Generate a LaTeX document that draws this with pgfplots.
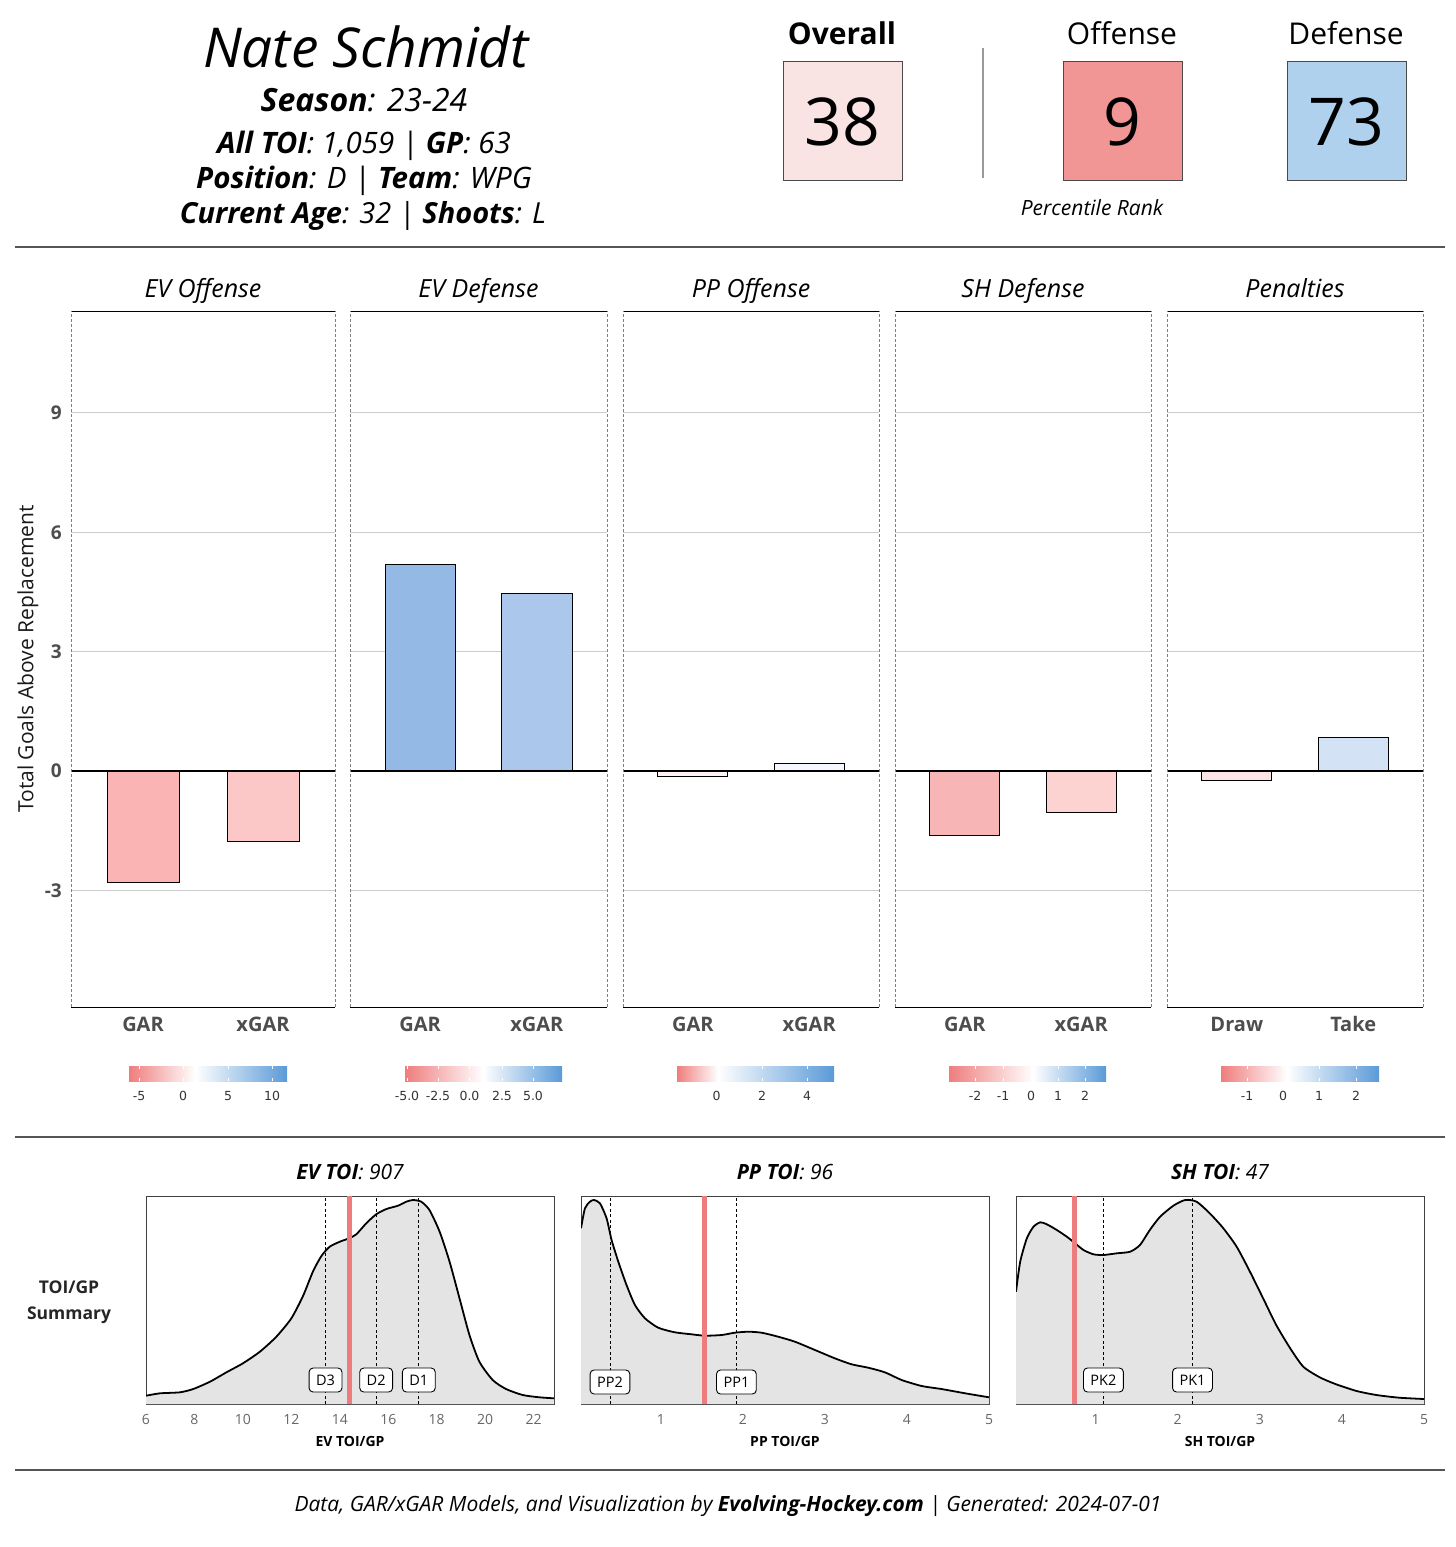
\documentclass[border=0pt]{standalone}
\usepackage{pgfplots}
\pgfplotsset{compat=1.18}
\usepackage{pgfplotstable}
\usepackage{fontspec}
\setmainfont{Open Sans}
\newfontfamily\dejavu{DejaVu Sans}
\pgfplotsset{/pgf/number format/assume math mode=true}

\definecolor{ovr}{HTML}{FAE3E3}
\definecolor{offc}{HTML}{F19595}
\definecolor{defc}{HTML}{B0D1ED}
\definecolor{boxedge}{HTML}{4A4A4A}
\definecolor{rulec}{HTML}{555555}
\definecolor{gridc}{HTML}{CCCCCC}
\definecolor{ticktxt}{HTML}{4D4D4D}
\definecolor{evoG}{HTML}{F9B4B3}
\definecolor{evoX}{HTML}{FCC8C7}
\definecolor{evdG}{HTML}{94B9E5}
\definecolor{evdX}{HTML}{ABC7EB}
\definecolor{ppoG}{HTML}{FDF2F2}
\definecolor{ppoX}{HTML}{F4F7FD}
\definecolor{shdG}{HTML}{F8B5B5}
\definecolor{shdX}{HTML}{FDD3D2}
\definecolor{penD}{HTML}{FDE4E4}
\definecolor{penT}{HTML}{D4E2F6}
\definecolor{cbred}{HTML}{EF7D7D}
\definecolor{cbblue}{HTML}{5A9AD8}
\definecolor{densfill}{HTML}{E4E4E4}
\definecolor{redln}{HTML}{EE7C7C}

% density curves (x = TOI/GP, y = height in px above panel floor)
\pgfplotstableread{
x y
6.00 8.3
6.58 10.7
7.40 11.7
7.95 15
8.64 22.3
9.32 31.7
10.00 40.7
10.70 52.3
11.38 67.3
12.00 85.7
12.48 108
12.90 133
13.24 148
13.58 157.3
14.00 162.3
14.38 165.7
14.68 169.7
15.09 180.7
15.50 189.7
15.92 195
16.40 198.3
16.74 202.3
17.02 204
17.36 202.3
17.70 194
18.12 172.3
18.53 142.3
18.94 105.7
19.35 69
19.76 42.3
20.31 24
20.86 15
21.55 9
22.24 6.7
22.84 5.7
}\evtab

\pgfplotstableread{
x y
0.025 175.7
0.073 195.7
0.134 202.3
0.183 204
0.256 200.7
0.337 185.7
0.398 164
0.480 142.3
0.580 119
0.683 99
0.805 85.7
0.967 76.3
1.170 71.7
1.374 69.7
1.537 68.3
1.740 69
1.900 71.3
2.065 72.3
2.228 71.3
2.430 67.3
2.634 62.3
2.878 54
3.120 45.7
3.325 39.7
3.528 36.3
3.730 31.7
3.935 24
4.180 18
4.420 15
4.710 10.7
5.000 6.7
}\pptab

\pgfplotstableread{
x y
0.030 112.3
0.081 142.3
0.162 165.7
0.243 177.3
0.325 181.7
0.406 179.7
0.527 174
0.649 167.3
0.750 160.7
0.852 154
0.974 149.7
1.095 149
1.258 150.7
1.420 152.3
1.540 159
1.660 174
1.785 187.3
1.947 198.3
2.090 204
2.230 202.3
2.390 190.7
2.556 175.7
2.718 157.3
2.880 132.3
3.040 105.7
3.200 79
3.370 55.7
3.530 37.3
3.730 26.7
3.930 19.7
4.180 13
4.420 9
4.700 6.3
5.000 5
}\shtab

\pgfplotsset{
  garax/.style={
    scale only axis, height=696pt, clip=false,
    xmin=0.4, xmax=2.6, ymin=-5.93, ymax=11.56,
    axis line style={draw=none},
    ytick={-3,0,3,6,9}, yticklabels={},
    ymajorgrids, grid style={color=gridc, line width=0.9pt},
    xtick={1,2}, major tick length=0pt,
    xticklabel style={font=\fontsize{20}{24}\selectfont\bfseries, text=ticktxt, anchor=base, inner sep=0pt, yshift=-24pt},
    yticklabel style={font=\fontsize{19}{22}\selectfont\bfseries, text=ticktxt, anchor=east, inner sep=0pt, xshift=-9pt},
    ybar, bar width=0.6,
  },
  b/.style={fill=#1, draw=black, line width=0.9pt, bar shift=0pt},
  densax/.style={
    scale only axis, width=408pt, height=208pt,
    ymin=0, ymax=208, ytick=\empty,
    axis line style={draw=black!75, line width=0.8pt},
    major tick length=0pt,
    xticklabel style={font=\fontsize{14}{16}\selectfont, text=black!60, anchor=base, inner sep=0pt, yshift=-20pt},
  },
  dashln/.style={black, line width=0.8pt, dash pattern=on 3pt off 2.5pt},
  redv/.style={redln, line width=5pt},
}
\tikzset{lab/.style={draw=black, line width=0.9pt, fill=white, rounded corners=4pt, inner xsep=7pt, inner ysep=0pt, minimum height=24pt, font=\fontsize{14.5}{16}\selectfont}}

\newcommand{\panelframe}{%
  \draw[black, line width=1.6pt] (axis cs:0.4,0) -- (axis cs:2.6,0);
  \draw[black, line width=1pt] (rel axis cs:0,1) -- (rel axis cs:1,1);
  \draw[black, line width=1pt] (rel axis cs:0,0) -- (rel axis cs:1,0);
  \draw[black!50, line width=0.8pt, dash pattern=on 3pt off 2pt] (rel axis cs:0,0) -- (rel axis cs:0,1);
  \draw[black!50, line width=0.8pt, dash pattern=on 3pt off 2pt] (rel axis cs:1,0) -- (rel axis cs:1,1);
}

\newcommand{\cbar}[3]{% x0, xwhite, x1
  \shade[left color=cbred, right color=white] (#1pt,-1066pt) rectangle (#2pt,-1081pt);
  \shade[left color=white, right color=cbblue] (#2pt,-1066pt) rectangle (#3pt,-1081pt);
}
\newcommand{\cbtick}[2]{% x, label
  \draw[white, line width=0.8pt] (#1pt,-1066pt) -- (#1pt,-1069pt);
  \draw[white, line width=0.8pt] (#1pt,-1081pt) -- (#1pt,-1078pt);
  \node[anchor=base, inner sep=0pt, font=\dejavu\fontsize{12.5}{14}\selectfont, text=black!80] at (#1pt,-1100.5pt) {#2};
}

\begin{document}
\begin{tikzpicture}
\path[use as bounding box] (0pt,0pt) rectangle (1456pt,-1547pt);

% ---------------- header left
\node[anchor=base, inner sep=0pt, font=\fontsize{55}{64}\selectfont\itshape] at (366pt,-67pt) {Nate Schmidt};
\node[anchor=base, inner sep=0pt, font=\fontsize{32}{36}\selectfont\itshape] at (364pt,-111pt) {\textbf{Season}: 23-24};
\node[anchor=base, inner sep=0pt, font=\fontsize{29.5}{36}\selectfont\itshape] at (364pt,-153pt) {\textbf{All TOI}: 1,059 | \textbf{GP}: 63};
\node[anchor=base, inner sep=0pt, font=\fontsize{29.5}{36}\selectfont\itshape] at (364pt,-188pt) {\textbf{Position}: D | \textbf{Team}: WPG};
\node[anchor=base, inner sep=0pt, font=\fontsize{29}{36}\selectfont\itshape] at (363pt,-223pt) {\textbf{Current Age}: 32 | \textbf{Shoots}: L};

% ---------------- header right
\node[anchor=base, inner sep=0pt, font=\fontsize{30}{34}\selectfont\bfseries] at (842pt,-44pt) {Overall};
\node[anchor=base, inner sep=0pt, font=\fontsize{30}{34}\selectfont] at (1122pt,-44pt) {Offense};
\node[anchor=base, inner sep=0pt, font=\fontsize{30}{34}\selectfont] at (1346pt,-44pt) {Defense};
\draw[draw=boxedge, fill=ovr, line width=1pt] (783pt,-61pt) rectangle (902pt,-180pt);
\draw[draw=boxedge, fill=offc, line width=1pt] (1063pt,-61pt) rectangle (1182pt,-180pt);
\draw[draw=boxedge, fill=defc, line width=1pt] (1287pt,-61pt) rectangle (1406pt,-180pt);
\node[anchor=base, inner sep=0pt, font=\fontsize{66}{70}\selectfont] at (842.5pt,-145pt) {38};
\node[anchor=base, inner sep=0pt, font=\fontsize{66}{70}\selectfont] at (1122.5pt,-145pt) {9};
\node[anchor=base, inner sep=0pt, font=\fontsize{66}{70}\selectfont] at (1346.5pt,-145pt) {73};
\draw[black!40, line width=1.5pt] (983pt,-48pt) -- (983pt,-178pt);
\node[anchor=base, inner sep=0pt, font=\fontsize{21}{24}\selectfont\itshape] at (1092pt,-215pt) {Percentile Rank};

% ---------------- rules
\draw[rulec, line width=1.5pt] (15pt,-247pt) -- (1445pt,-247pt);
\draw[rulec, line width=1.5pt] (15pt,-1137pt) -- (1445pt,-1137pt);
\draw[rulec, line width=1.5pt] (15pt,-1470pt) -- (1445pt,-1470pt);

% ---------------- GAR panels
\node[anchor=base, inner sep=0pt, font=\fontsize{25}{28}\selectfont\itshape] at (203pt,-297pt) {EV Offense};
\node[anchor=base, inner sep=0pt, font=\fontsize{25}{28}\selectfont\itshape] at (478.5pt,-297pt) {EV Defense};
\node[anchor=base, inner sep=0pt, font=\fontsize{25}{28}\selectfont\itshape] at (751pt,-297pt) {PP Offense};
\node[anchor=base, inner sep=0pt, font=\fontsize{25}{28}\selectfont\itshape] at (1023pt,-297pt) {SH Defense};
\node[anchor=base, inner sep=0pt, font=\fontsize{25}{28}\selectfont\itshape] at (1295pt,-297pt) {Penalties};
\node[rotate=90, inner sep=0pt, font=\fontsize{21}{24}\selectfont, text=black!90] at (28pt,-659pt) {Total Goals Above Replacement};

\begin{axis}[garax, at={(71pt,-311pt)}, anchor=north west, width=264pt,
  yticklabels={-3,0,3,6,9}, xticklabels={GAR,xGAR}]
\addplot[b=evoG] coordinates {(1,-2.81)};
\addplot[b=evoX] coordinates {(2,-1.78)};
\panelframe
\end{axis}

\begin{axis}[garax, at={(350pt,-311pt)}, anchor=north west, width=257pt, xticklabels={GAR,xGAR}]
\addplot[b=evdG] coordinates {(1,5.20)};
\addplot[b=evdX] coordinates {(2,4.47)};
\panelframe
\end{axis}

\begin{axis}[garax, at={(623pt,-311pt)}, anchor=north west, width=256pt, xticklabels={GAR,xGAR}]
\addplot[b=ppoG] coordinates {(1,-0.13)};
\addplot[b=ppoX] coordinates {(2,0.20)};
\panelframe
\end{axis}

\begin{axis}[garax, at={(895pt,-311pt)}, anchor=north west, width=256pt, xticklabels={GAR,xGAR}]
\addplot[b=shdG] coordinates {(1,-1.63)};
\addplot[b=shdX] coordinates {(2,-1.03)};
\panelframe
\end{axis}

\begin{axis}[garax, at={(1167pt,-311pt)}, anchor=north west, width=256pt, xticklabels={Draw,Take}]
\addplot[b=penD] coordinates {(1,-0.23)};
\addplot[b=penT] coordinates {(2,0.85)};
\panelframe
\end{axis}

% ---------------- colour bars
\cbar{129}{195}{287}
\cbtick{139}{-5}\cbtick{183}{0}\cbtick{228}{5}\cbtick{272}{10}
\cbar{405}{483}{562}
\cbtick{407}{-5.0}\cbtick{438}{-2.5}\cbtick{469.5}{0.0}\cbtick{502}{2.5}\cbtick{533}{5.0}
\cbar{677}{718}{834}
\cbtick{716.5}{0}\cbtick{762}{2}\cbtick{807}{4}
\cbar{949}{1033}{1106}
\cbtick{975}{-2}\cbtick{1003}{-1}\cbtick{1031}{0}\cbtick{1058}{1}\cbtick{1085}{2}
\cbar{1221}{1287}{1379}
\cbtick{1247}{-1}\cbtick{1283}{0}\cbtick{1319}{1}\cbtick{1356}{2}

% ---------------- TOI summary
\node[align=center, inner sep=0pt, font=\fontsize{17.5}{26}\selectfont\bfseries, text=black!85] at (69pt,-1302pt) {TOI/GP\\Summary};
\node[anchor=base, inner sep=0pt, font=\fontsize{21}{24}\selectfont\itshape] at (350pt,-1179.5pt) {\textbf{EV TOI}: 907};
\node[anchor=base, inner sep=0pt, font=\fontsize{21}{24}\selectfont\itshape] at (785pt,-1179.5pt) {\textbf{PP TOI}: 96};
\node[anchor=base, inner sep=0pt, font=\fontsize{21}{24}\selectfont\itshape] at (1220pt,-1179.5pt) {\textbf{SH TOI}: 47};
\node[anchor=base, inner sep=0pt, font=\fontsize{14}{16}\selectfont\bfseries] at (350pt,-1446pt) {EV TOI/GP};
\node[anchor=base, inner sep=0pt, font=\fontsize{14}{16}\selectfont\bfseries] at (785pt,-1446pt) {PP TOI/GP};
\node[anchor=base, inner sep=0pt, font=\fontsize{14}{16}\selectfont\bfseries] at (1220pt,-1446pt) {SH TOI/GP};

\begin{axis}[densax, at={(146pt,-1196pt)}, anchor=north west, xmin=6, xmax=22.84, xtick={6,8,...,22}]
\addplot[fill=densfill, draw=none, smooth, tension=0.4] table {\evtab} \closedcycle;
\addplot[dashln] coordinates {(13.41,0) (13.41,208)};
\addplot[dashln] coordinates {(15.50,0) (15.50,208)};
\addplot[dashln] coordinates {(17.26,0) (17.26,208)};
\addplot[black, line width=1.8pt, smooth, tension=0.4] table {\evtab};
\addplot[redv] coordinates {(14.38,0) (14.38,208)};
\node[lab] at (axis cs:13.41,24) {D3};
\node[lab] at (axis cs:15.50,24) {D2};
\node[lab] at (axis cs:17.26,24) {D1};
\end{axis}

\begin{axis}[densax, at={(581pt,-1196pt)}, anchor=north west, xmin=0.025, xmax=5, xtick={1,2,3,4,5}]
\addplot[fill=densfill, draw=none, smooth, tension=0.4] table {\pptab} \closedcycle;
\addplot[dashln] coordinates {(0.378,0) (0.378,208)};
\addplot[dashln] coordinates {(1.92,0) (1.92,208)};
\addplot[black, line width=1.8pt, smooth, tension=0.4] table {\pptab};
\addplot[redv] coordinates {(1.53,0) (1.53,208)};
\node[lab] at (axis cs:0.378,22) {PP2};
\node[lab] at (axis cs:1.92,22) {PP1};
\end{axis}

\begin{axis}[densax, at={(1016pt,-1196pt)}, anchor=north west, xmin=0.03, xmax=5, xtick={1,2,3,4,5}]
\addplot[fill=densfill, draw=none, smooth, tension=0.4] table {\shtab} \closedcycle;
\addplot[dashln] coordinates {(1.095,0) (1.095,208)};
\addplot[dashln] coordinates {(2.18,0) (2.18,208)};
\addplot[black, line width=1.8pt, smooth, tension=0.4] table {\shtab};
\addplot[redv] coordinates {(0.746,0) (0.746,208)};
\node[lab] at (axis cs:1.095,24) {PK2};
\node[lab] at (axis cs:2.18,24) {PK1};
\end{axis}

% ---------------- footer
\node[anchor=base, inner sep=0pt, font=\fontsize{21}{24}\selectfont\itshape] at (728pt,-1511.5pt) {Data, GAR/xGAR Models, and Visualization by \textbf{Evolving-Hockey.com} | Generated: 2024-07-01};

\end{tikzpicture}
\end{document}
